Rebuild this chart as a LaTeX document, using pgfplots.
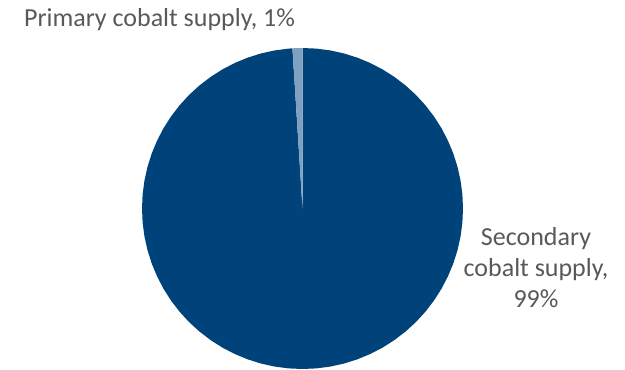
\documentclass[border=0pt]{standalone}
\usepackage{pgfplots}
\pgfplotsset{compat=1.18}
\usetikzlibrary{calc}
\usepackage{fontspec}
\setmainfont{Carlito}
\definecolor{pieDark}{HTML}{00437A}
\definecolor{pieLight}{HTML}{7FA0C1}
\definecolor{lblGray}{HTML}{595959}
\begin{document}
% Shares: Secondary cobalt supply 99%, Primary cobalt supply 1%
% Slices drawn clockwise from 12 o'clock: secondary 0..356.4 deg, primary 356.4..360 deg
\begin{tikzpicture}
\begin{axis}[
  hide axis, scale only axis,
  width=468.75pt, height=276.75pt,
  xmin=-302.5, xmax=322.5, ymin=-160.5, ymax=208.5,
  data cs=polar,
]
% Secondary cobalt supply, 99%  (angles 93.6 .. 450, radius 160.5)
\addplot[fill=pieDark, draw=none] coordinates {
(0,0) (93.6,160.5) (95,160.5) (100,160.5) (105,160.5) (110,160.5) (115,160.5) (120,160.5)
(125,160.5) (130,160.5) (135,160.5) (140,160.5) (145,160.5) (150,160.5) (155,160.5)
(160,160.5) (165,160.5) (170,160.5) (175,160.5) (180,160.5) (185,160.5) (190,160.5)
(195,160.5) (200,160.5) (205,160.5) (210,160.5) (215,160.5) (220,160.5) (225,160.5)
(230,160.5) (235,160.5) (240,160.5) (245,160.5) (250,160.5) (255,160.5) (260,160.5)
(265,160.5) (270,160.5) (275,160.5) (280,160.5) (285,160.5) (290,160.5) (295,160.5)
(300,160.5) (305,160.5) (310,160.5) (315,160.5) (320,160.5) (325,160.5) (330,160.5)
(335,160.5) (340,160.5) (345,160.5) (350,160.5) (355,160.5) (360,160.5) (365,160.5)
(370,160.5) (375,160.5) (380,160.5) (385,160.5) (390,160.5) (395,160.5) (400,160.5)
(405,160.5) (410,160.5) (415,160.5) (420,160.5) (425,160.5) (430,160.5) (435,160.5)
(440,160.5) (445,160.5) (450,160.5)
} -- cycle;
% Primary cobalt supply, 1%  (angles 90 .. 93.6)
\addplot[fill=pieLight, draw=none] coordinates {
(0,0) (90,160.5) (91.8,160.5) (93.6,160.5)
} -- cycle;
\end{axis}
\pgfresetboundingbox
\path (current axis.south west) rectangle (current axis.north east);
\begin{scope}[every node/.style={text=lblGray, font=\fontsize{19.5}{23}\selectfont, inner sep=0pt, anchor=base}]
\node at ($(current axis.north west)+(159.5*0.75pt,-26*0.75pt)$) {Primary cobalt supply, 1\%};
\node at ($(current axis.north west)+(536*0.75pt,-245*0.75pt)$) {Secondary};
\node at ($(current axis.north west)+(536*0.75pt,-276*0.75pt)$) {cobalt supply,};
\node at ($(current axis.north west)+(536*0.75pt,-307*0.75pt)$) {99\%};
\end{scope}
\end{tikzpicture}
\end{document}
